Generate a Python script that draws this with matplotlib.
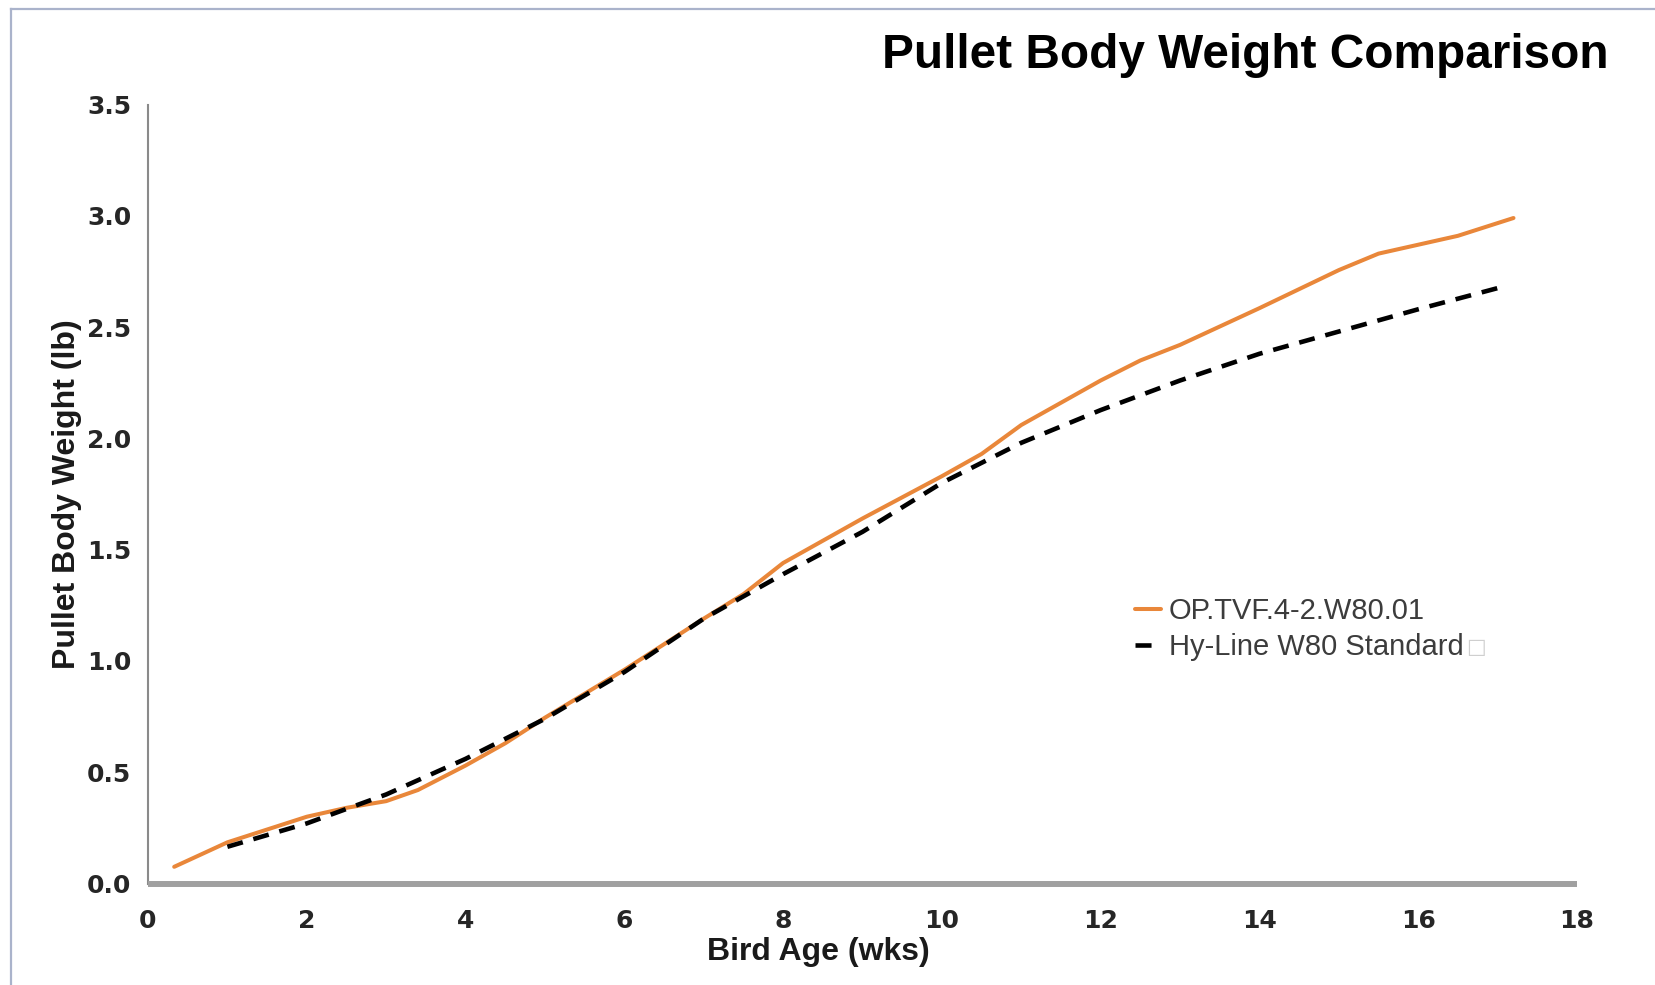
import matplotlib
matplotlib.use("Agg")
import matplotlib.pyplot as plt
from matplotlib.lines import Line2D

# ---- data ----
op_weeks = [0.33, 1, 2, 2.5, 3, 3.4, 4, 4.5, 5, 6, 7, 7.5, 8, 8.3, 9, 10, 10.5, 11,
            12, 12.5, 13, 14, 15, 15.5, 16, 16.5, 17.2]
op_weight = [0.075, 0.185, 0.30, 0.34, 0.37, 0.42, 0.53, 0.63, 0.745, 0.96, 1.19, 1.30,
             1.44, 1.50, 1.64, 1.83, 1.93, 2.06, 2.26, 2.35, 2.42, 2.585, 2.756, 2.83,
             2.87, 2.91, 2.99]

std_weeks = [1, 2, 3, 4, 5, 6, 7, 8, 9, 10, 11, 12, 13, 14, 15, 16, 17]
std_weight = [0.165, 0.27, 0.40, 0.56, 0.74, 0.95, 1.19, 1.39, 1.58, 1.80, 1.98, 2.127,
              2.26, 2.38, 2.48, 2.58, 2.675]

series_labels = ["OP.TVF.4-2.W80.01", "Hy-Line W80 Standard"]
x_ticks = [0, 2, 4, 6, 8, 10, 12, 14, 16, 18]
y_ticks = [0.0, 0.5, 1.0, 1.5, 2.0, 2.5, 3.0, 3.5]
y_ticklabels = ["0.0", "0.5", "1.0", "1.5", "2.0", "2.5", "3.0", "3.5"]
title = "Pullet Body Weight Comparison"
x_label = "Bird Age (wks)"
y_label = "Pullet Body Weight (lb)"

W, H = 1655, 985
fig = plt.figure(figsize=(W / 100, H / 100), dpi=100)
fig.patch.set_facecolor("white")

ax_l, ax_r, ax_b, ax_t = 148, 1577, 883.5, 104.5
ax = fig.add_axes([ax_l / W, 1 - ax_b / H, (ax_r - ax_l) / W, (ax_b - ax_t) / H])

ax.plot(op_weeks, op_weight, color="#E9873A", lw=2.9, solid_capstyle="round",
        solid_joinstyle="round", label=series_labels[0], zorder=3)
ax.plot(std_weeks, std_weight, color="black", lw=3.3, dashes=(3.5, 2.4),
        label=series_labels[1], zorder=4)

ax.set_xlim(0, 18)
ax.set_ylim(0, 3.5)
ax.set_xticks(x_ticks)
ax.set_yticks(y_ticks)
ax.set_yticklabels(y_ticklabels)
ax.tick_params(length=0, labelsize=18, colors="#262626")
ax.tick_params(axis="y", pad=12)
ax.tick_params(axis="x", pad=18)
for lab in ax.get_xticklabels() + ax.get_yticklabels():
    lab.set_fontfamily("DejaVu Sans")
    lab.set_fontweight("bold")

for s in ["top", "right"]:
    ax.spines[s].set_visible(False)
ax.spines["left"].set_color("#8a8a8a")
ax.spines["left"].set_linewidth(1.5)
ax.spines["bottom"].set_color("#a0a0a0")
ax.spines["bottom"].set_linewidth(4.3)
ax.spines["bottom"].set_capstyle("butt")

lab_font = dict(family="Liberation Sans", weight="bold", size=23, color="#1a1a1a")
ax.set_xlabel(x_label, **lab_font)
ax.xaxis.set_label_coords((818 - ax_l) / (ax_r - ax_l), (ax_b - 937) / (ax_b - ax_t))
ax.set_ylabel(y_label, **lab_font)
ax.yaxis.set_label_coords((82 - ax_l) / (ax_r - ax_l), 0.5)

fig.text(1609 / W, 1 - 56 / H, title, ha="right", va="center",
         family="Liberation Sans", weight="bold", size=34.4, color="black")

leg = ax.legend(loc="center left",
                bbox_to_anchor=((1135 - ax_l) / (ax_r - ax_l), (ax_b - 629) / (ax_b - ax_t)),
                frameon=False, borderpad=0, borderaxespad=0, handlelength=0.9,
                handletextpad=0.25, labelspacing=0.28,
                prop=dict(family="Liberation Sans", size=21))
for t in leg.get_texts():
    t.set_color("#3c3c3c")

# the undisplayable character after the second legend label
fig.canvas.draw()
bb = leg.get_texts()[1].get_window_extent()
fig.text((bb.x1 + 3) / W, (bb.y0 + bb.y1) / 2 / H, "\u25a1", ha="left", va="center",
         family="DejaVu Sans", size=15, color="#cfcfcf")

# window frame lines of the screenshot
border = "#aab3cb"
fig.add_artist(Line2D([11 / W, 1], [1 - 9 / H, 1 - 9 / H], transform=fig.transFigure,
                      color=border, lw=1.6))
fig.add_artist(Line2D([11 / W, 11 / W], [0, 1 - 9 / H], transform=fig.transFigure,
                      color=border, lw=1.6))

fig.savefig("out.png", dpi=100, facecolor="white")
